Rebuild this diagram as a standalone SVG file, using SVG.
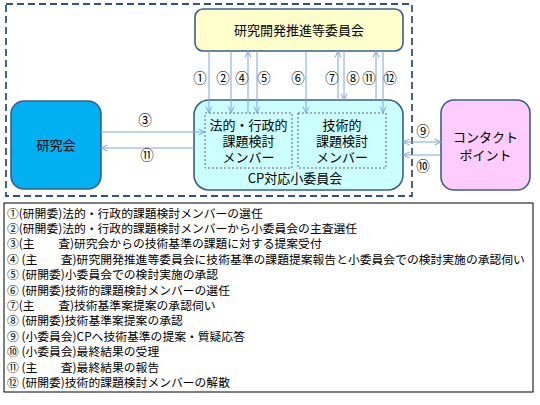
<svg xmlns="http://www.w3.org/2000/svg" width="540" height="405" viewBox="0 0 540 405">
<defs>
<marker id="ah" viewBox="0 0 8 8" refX="7.5" refY="4" markerWidth="8" markerHeight="8" markerUnits="userSpaceOnUse" orient="auto-start-reverse">
<path d="M1,1 L7.5,4 L1,7" fill="none" stroke="#7FA6DA" stroke-width="1"/>
</marker>
<style>
.node{stroke:#3A5F8F;stroke-width:1.6}
.inner{fill:none;stroke:#555;stroke-width:0.9;stroke-dasharray:2,2}
.t{font-family:"Noto Sans CJK JP","Liberation Sans",sans-serif;font-size:13px;fill:#000;text-anchor:middle}
.lbl{font-family:"Noto Sans CJK JP","Liberation Sans",sans-serif;font-size:13.5px;fill:#000;text-anchor:middle}
.leg{font-family:"Noto Sans CJK JP","Liberation Sans",sans-serif;font-size:11.8px;fill:#000}
.c{stroke:#7FA6DA;stroke-width:1;fill:none;marker-end:url(#ah)}
.cb{stroke:#7FA6DA;stroke-width:1;fill:none;marker-end:url(#ah);marker-start:url(#ah)}
</style>
</defs>
<rect width="540" height="405" fill="#fff"/>
<rect x="6" y="4" width="406" height="192" fill="none" stroke="#2F5384" stroke-width="1.8" stroke-dasharray="7,4"/>

<g id="iinkai">
<rect class="node" x="195" y="9" width="208" height="42" rx="8" fill="#FFFFCC"/>
<text class="t" x="299" y="35">研究開発推進等委員会</text>
</g>
<g id="kenkyukai">
<rect class="node" x="11" y="101" width="90" height="88" rx="13" fill="#00B0F0"/>
<text class="t" x="56" y="150">研究会</text>
</g>
<g id="cp">
<rect class="node" x="194" y="100" width="209" height="90" rx="15" fill="#CCFFFF"/>
<text class="t" x="295" y="183">CP対応小委員会</text>
</g>
<g id="hoteki">
<rect class="inner" x="205" y="113" width="87" height="55"/>
<text class="t" x="248.5" y="130">法的・行政的</text>
<text class="t" x="248.5" y="146">課題検討</text>
<text class="t" x="248.5" y="162">メンバー</text>
</g>
<g id="gijutsu">
<rect class="inner" x="298" y="113" width="88" height="55"/>
<text class="t" x="342" y="130">技術的</text>
<text class="t" x="342" y="146">課題検討</text>
<text class="t" x="342" y="162">メンバー</text>
</g>
<g id="contact">
<rect class="node" x="441" y="100" width="89" height="90" rx="13" fill="#FFCCFF"/>
<text class="t" x="485.5" y="142">コンタクト</text>
<text class="t" x="485.5" y="160">ポイント</text>
</g>

<g id="connectors">
<line class="c" x1="209" y1="51" x2="209" y2="113"/>
<line class="c" x1="231" y1="51" x2="231" y2="113"/>
<line class="c" x1="248" y1="113" x2="248" y2="51"/>
<line class="c" x1="257" y1="51" x2="257" y2="113"/>
<line class="c" x1="306" y1="51" x2="306" y2="113"/>
<line class="c" x1="338" y1="100" x2="338" y2="51"/>
<line class="c" x1="344" y1="51" x2="344" y2="100"/>
<line class="c" x1="376" y1="100" x2="376" y2="51"/>
<line class="c" x1="383" y1="51" x2="383" y2="113"/>
<line class="c" x1="101" y1="132" x2="205" y2="132"/>
<line class="c" x1="194" y1="148" x2="101" y2="148"/>
<line class="cb" x1="403" y1="142" x2="441" y2="142"/>
<line class="c" x1="441" y1="155" x2="403" y2="155"/>
<g id="labels">
<text class="lbl" x="200" y="83">①</text>
<text class="lbl" x="223" y="83">②</text>
<text class="lbl" x="242" y="83">④</text>
<text class="lbl" x="264" y="83">⑤</text>
<text class="lbl" x="298" y="83">⑥</text>
<text class="lbl" x="332" y="83">⑦</text>
<text class="lbl" x="353" y="83">⑧</text>
<text class="lbl" x="369" y="83">⑪</text>
<text class="lbl" x="390" y="83">⑫</text>
<text class="lbl" x="145" y="125">③</text>
<text class="lbl" x="147" y="160">⑪</text>
<text class="lbl" x="423" y="136">⑨</text>
<text class="lbl" x="423" y="171">⑩</text>
</g>
</g>

<g id="legend">
<rect x="4" y="203" width="529" height="189" fill="#fff" stroke="#000" stroke-width="1"/>
<text class="leg" x="7" y="217.5">①(研開委)法的・行政的課題検討メンバーの選任</text>
<text class="leg" x="7" y="232.9">②(研開委)法的・行政的課題検討メンバーから小委員会の主査選任</text>
<text class="leg" x="7" y="248.3">③(主　　査)研究会からの技術基準の課題に対する提案受付</text>
<text class="leg" x="7" y="263.7">④ (主　　査)研究開発推進等委員会に技術基準の課題提案報告と小委員会での検討実施の承認伺い</text>
<text class="leg" x="7" y="279.1">⑤ (研開委)小委員会での検討実施の承認</text>
<text class="leg" x="7" y="294.5">⑥ (研開委)技術的課題検討メンバーの選任</text>
<text class="leg" x="7" y="309.9">⑦(主　　査)技術基準案提案の承認伺い</text>
<text class="leg" x="7" y="325.3">⑧ (研開委)技術基準案提案の承認</text>
<text class="leg" x="7" y="340.7">⑨ (小委員会)CPへ技術基準の提案・質疑応答</text>
<text class="leg" x="7" y="356.1">⑩ (小委員会)最終結果の受理</text>
<text class="leg" x="7" y="371.5">⑪ (主　　査)最終結果の報告</text>
<text class="leg" x="7" y="386.9">⑫ (研開委)技術的課題検討メンバーの解散</text>
</g>
</svg>
